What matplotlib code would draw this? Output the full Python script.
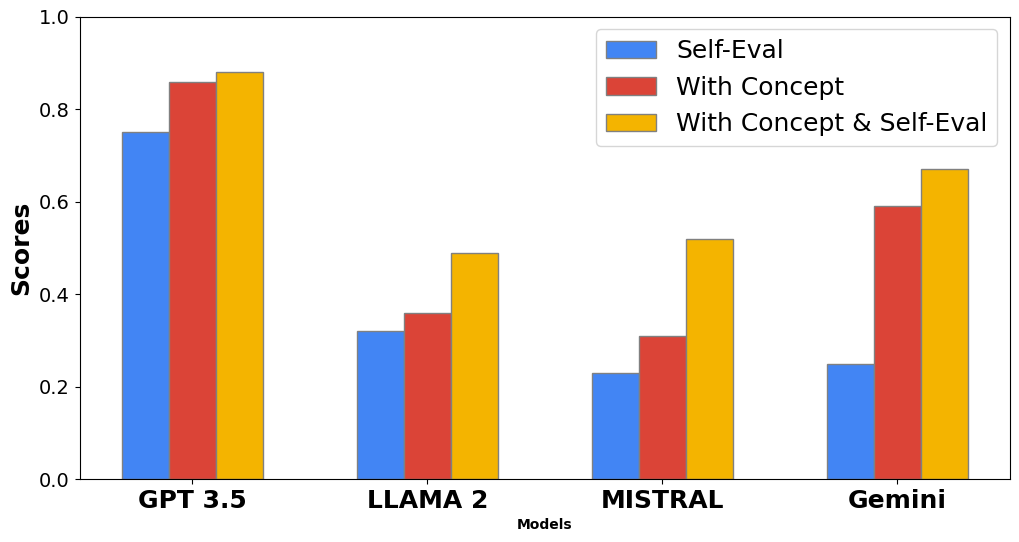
import matplotlib
matplotlib.use("Agg")
import matplotlib.pyplot as plt
import numpy as np

models = ["GPT 3.5", "LLAMA 2", "MISTRAL", "Gemini"]
self_eval = [0.75, 0.32, 0.23, 0.25]
with_concept = [0.86, 0.36, 0.31, 0.59]
with_concept_self_eval = [0.88, 0.49, 0.52, 0.67]
series_labels = ["Self-Eval", "With Concept", "With Concept & Self-Eval"]

fig, ax = plt.subplots(figsize=(10.2, 5.42), dpi=100)
fig.subplots_adjust(left=0.078, right=0.99, top=0.969, bottom=0.116)

x = np.arange(len(models))
w = 0.2
colors = ["#4285F4", "#DB4437", "#F4B400"]
for i, (vals, lab) in enumerate(zip([self_eval, with_concept, with_concept_self_eval], series_labels)):
    ax.bar(x + (i - 1) * w, vals, w, color=colors[i], edgecolor="grey", label=lab)

ax.set_ylim(0, 1.0)
ax.set_xticks(x)
ax.set_xticklabels(models, fontsize=18, fontweight="bold")
ax.tick_params(axis="y", labelsize=14)
ax.set_ylabel("Scores", fontsize=18, fontweight="bold")
ax.set_xlabel("Models", fontweight="bold")
ax.legend(fontsize=18, loc="upper right")

fig.savefig("out.png", dpi=100)
